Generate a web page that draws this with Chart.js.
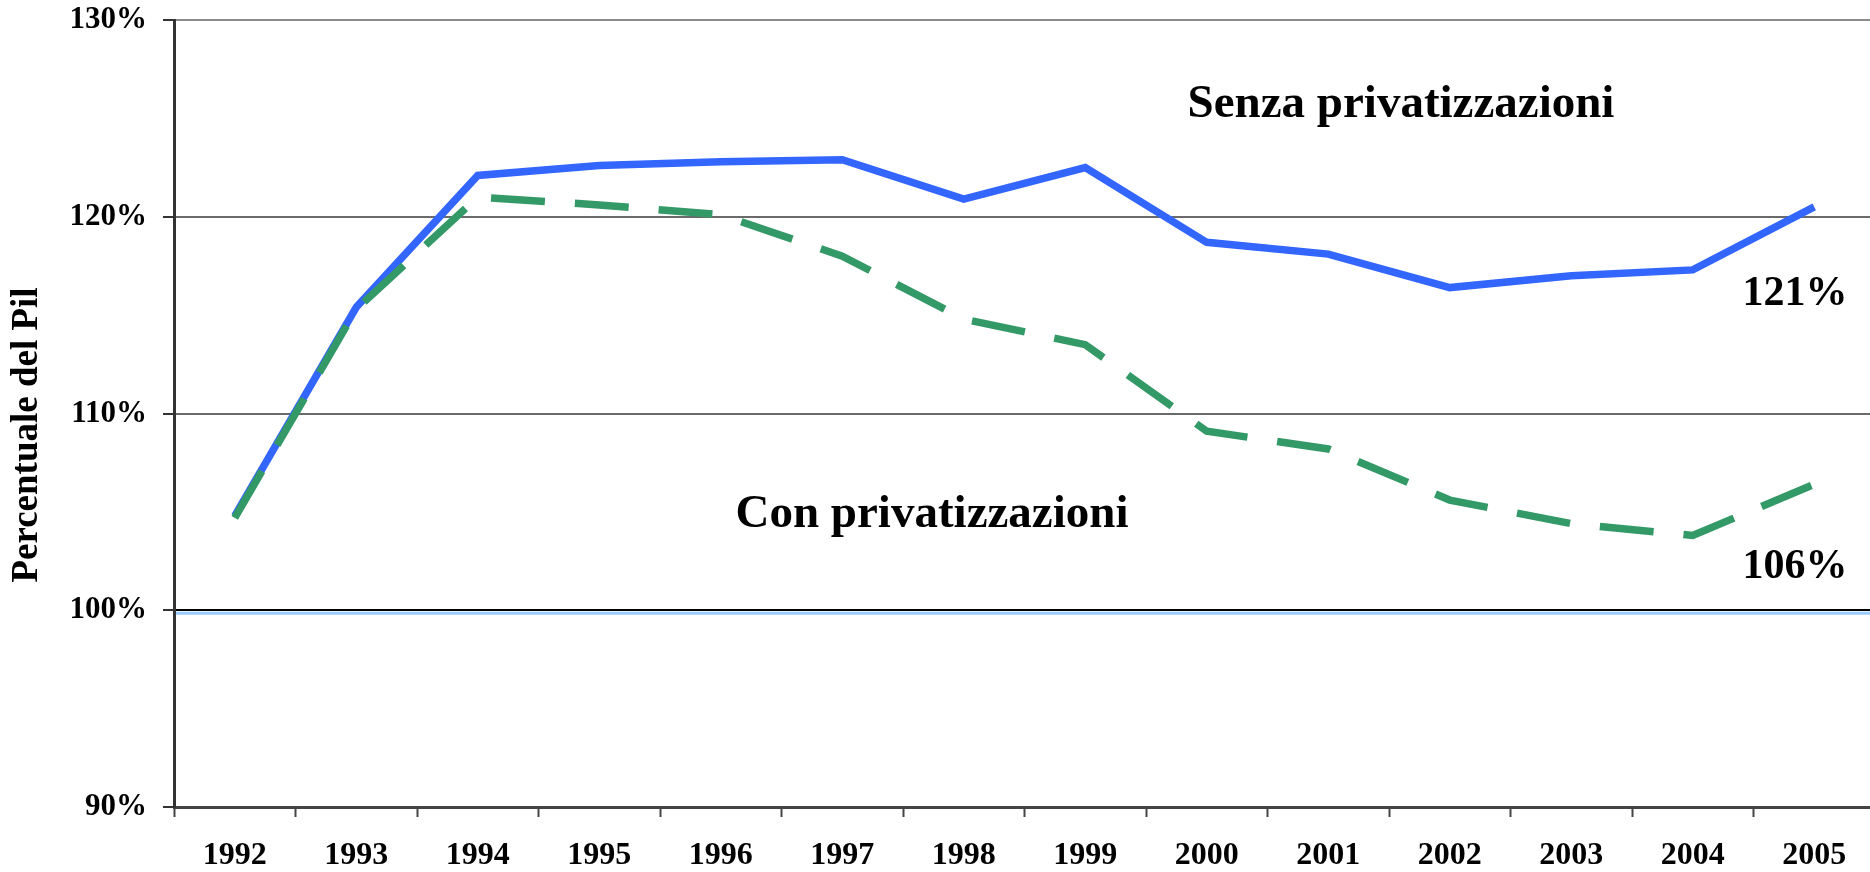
<!DOCTYPE html>
<html>
<head>
<meta charset="utf-8">
<script src="https://cdn.jsdelivr.net/npm/chart.js@4/dist/chart.umd.min.js"></script>
<style>
  html, body { margin: 0; padding: 0; background: #fff; overflow: hidden; }
  #wrap { width: 1870px; height: 872px; overflow: hidden; }
</style>
</head>
<body>
<div id="wrap"><canvas id="debitoChart" width="1880" height="872"></canvas></div>
<script>
const anni = ['1992', '1993', '1994', '1995', '1996', '1997', '1998', '1999', '2000', '2001', '2002', '2003', '2004', '2005'];
const senzaPrivatizzazioni = [104.8, 115.4, 122.1, 122.6, 122.8, 122.9, 120.9, 122.5, 118.7, 118.1, 116.4, 117.0, 117.3, 120.5];
const conPrivatizzazioni = [104.7, 115.3, 121.0, 120.6, 120.1, 118.0, 114.8, 113.5, 109.1, 108.2, 105.6, 104.4, 103.8, 106.4];
const tickY = [90, 100, 110, 120, 130];

const serif = '"Liberation Serif", "Times New Roman", serif';

const annotazioni = {
    id: 'annotazioni',
    beforeDatasetsDraw(chart) {
        const ctx = chart.ctx;
        const y = chart.scales.y;
        const area = chart.chartArea;
        // linea azzurra sotto il 100%
        ctx.save();
        ctx.strokeStyle = '#99ccff';
        ctx.lineWidth = 3;
        ctx.beginPath();
        ctx.moveTo(area.left + 2, y.getPixelForValue(100) + 3);
        ctx.lineTo(area.right, y.getPixelForValue(100) + 3);
        ctx.stroke();
        ctx.restore();
    },
    afterDraw(chart) {
        const ctx = chart.ctx;
        ctx.save();
        ctx.fillStyle = '#000';
        ctx.textAlign = 'center';
        ctx.textBaseline = 'alphabetic';
        ctx.font = 'bold 47px ' + serif;
        ctx.fillText('Senza privatizzazioni', 1401, 117);
        ctx.fillText('Con privatizzazioni', 932, 527);
        ctx.font = 'bold 42px ' + serif;
        ctx.fillText('121%', 1795, 305);
        ctx.fillText('106%', 1795, 578);

        ctx.translate(27, 435);
        ctx.rotate(-Math.PI / 2);
        ctx.textBaseline = 'middle';
        ctx.font = 'bold 37px ' + serif;
        ctx.fillText('Percentuale del Pil', 0, 0);
        ctx.restore();
    }
};

const ctx = document.getElementById('debitoChart').getContext('2d');
new Chart(ctx, {
    type: 'line',
    data: {
        labels: anni,
        datasets: [{
            label: 'Senza privatizzazioni',
            data: senzaPrivatizzazioni,
            borderColor: '#3366ff',
            borderWidth: 7.5,
            pointRadius: 0,
            tension: 0,
            fill: false,
            order: 2
        }, {
            label: 'Con privatizzazioni',
            data: conPrivatizzazioni,
            borderColor: '#339966',
            borderWidth: 7.5,
            borderDash: [54, 30],
            borderCapStyle: 'butt',
            pointRadius: 0,
            tension: 0,
            fill: false,
            order: 1
        }]
    },
    options: {
        responsive: false,
        animation: false,
        layout: { padding: { top: 20, right: 5, left: 0, bottom: 0 } },
        plugins: {
            legend: { display: false },
            tooltip: { enabled: false }
        },
        scales: {
            x: {
                offset: true,
                grid: {
                    offset: true,
                    drawOnChartArea: false,
                    tickLength: 10,
                    tickColor: '#444',
                    tickWidth: 2
                },
                border: { color: '#444', width: 3 },
                ticks: {
                    color: '#000',
                    padding: 20,
                    maxRotation: 0,
                    font: { family: serif, size: 32, weight: 'bold' }
                },
                afterFit(scale) {
                    scale.height = 65;
                    scale.paddingLeft = 0;
                    scale.paddingRight = 0;
                }
            },
            y: {
                min: 90,
                max: 130,
                afterBuildTicks(scale) {
                    scale.ticks = tickY.map(v => ({ value: v }));
                },
                grid: {
                    color(c) {
                        if (c.tick.value === 100) return '#000';
                        if (c.tick.value === 130) return '#8a8a8a';
                        return '#6a6a6a';
                    },
                    lineWidth: 2,
                    tickLength: 11,
                    tickColor: '#333',
                    tickWidth: 2
                },
                border: { color: '#333', width: 3 },
                ticks: {
                    color: '#000',
                    padding: 16,
                    font: { family: serif, size: 31, weight: 'bold' },
                    callback: v => v + '%'
                },
                afterFit(scale) {
                    scale.width = 174;
                    scale.paddingTop = 0;
                    scale.paddingBottom = 0;
                }
            }
        }
    },
    plugins: [annotazioni]
});
</script>
</body>
</html>
